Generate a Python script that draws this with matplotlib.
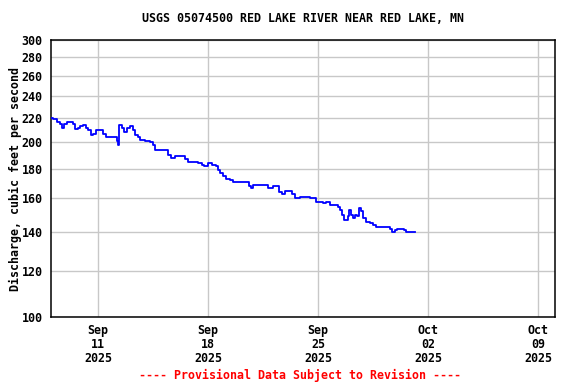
import matplotlib
matplotlib.use("Agg")
import matplotlib.pyplot as plt
import matplotlib.dates as mdates
from matplotlib.ticker import FixedLocator, NullLocator
from datetime import datetime, timedelta

days = [0.00, 0.13, 0.38, 0.57, 0.70, 0.83, 1.02, 1.21, 1.40, 1.53, 1.72, 1.85,
        2.04, 2.23, 2.36, 2.55, 2.67, 2.86, 3.12, 3.31, 3.50, 3.76, 4.14, 4.20,
        4.27, 4.33, 4.52, 4.65, 4.84, 5.03, 5.22, 5.35, 5.54, 5.67, 5.79, 5.98,
        6.30, 6.49, 6.62, 6.75, 7.07, 7.32, 7.45, 7.64, 7.89, 8.21, 8.53, 8.72,
        8.91, 9.17, 9.36, 9.61, 9.74, 9.99, 10.25, 10.50, 10.63, 10.76, 10.95,
        11.14, 11.39, 11.59, 11.78, 12.03, 12.41, 12.60, 12.73, 12.86, 13.11,
        13.43, 13.62, 13.81, 13.94, 14.13, 14.32, 14.51, 14.70, 14.90, 15.15,
        15.34, 15.53, 15.72, 15.85, 16.04, 16.23, 16.49, 16.68, 16.87, 17.12,
        17.31, 17.51, 17.76, 18.08, 18.27, 18.40, 18.52, 18.65, 18.78, 18.91,
        18.97, 19.10, 19.22, 19.35, 19.48, 19.61, 19.73, 19.86, 20.05, 20.31,
        20.50, 20.69, 20.94, 21.39, 21.58, 21.71, 21.90, 22.03, 22.34, 22.47,
        22.60, 22.85, 23.11, 23.17]
flow = [220, 219, 217, 215, 212, 215, 217, 217, 215, 211, 212, 213,
        214, 212, 210, 206, 207, 210, 210, 207, 204, 204, 204, 201,
        198, 214, 212, 208, 212, 213, 210, 206, 204, 202, 202, 201,
        200, 198, 194, 194, 194, 194, 190, 188, 189, 189, 187, 185,
        185, 185, 184, 183, 182, 184, 183, 182, 179, 177, 175,
        173, 172, 171, 171, 171, 171, 168, 167, 169, 169,
        169, 169, 167, 167, 168, 168, 164, 163, 165, 165,
        163, 160, 160, 161, 161, 161, 160, 160, 158, 158,
        157, 158, 156, 156, 155, 153, 150, 147, 147, 149,
        153, 150, 148, 150, 149, 154, 152, 148, 146, 145,
        144, 143, 143, 143, 142, 140, 141, 142, 142, 141,
        140, 140, 140, 140]

y_ticks = [100, 120, 140, 160, 180, 200, 220, 240, 260, 280, 300]
x_ticks = [datetime(2025, 9, 11), datetime(2025, 9, 18), datetime(2025, 9, 25),
           datetime(2025, 10, 2), datetime(2025, 10, 9)]

base = datetime(2025, 9, 8)
times = [base + timedelta(days=d) for d in days]

font = {'family': 'DejaVu Sans Mono', 'weight': 'bold', 'size': 8.4}

fig = plt.figure(figsize=(5.76, 3.84), dpi=100)
ax = fig.add_axes([0.0885, 0.1745, 0.875, 0.7213])

ax.plot(times, flow, color=(0, 0, 1), linewidth=1.3, drawstyle='steps-post', zorder=3)

ax.set_yscale('log')
ax.set_ylim(100, 300)
ax.yaxis.set_major_locator(FixedLocator(y_ticks))
ax.yaxis.set_minor_locator(NullLocator())
ax.set_yticklabels([str(v) for v in y_ticks], fontdict=font)

ax.set_xlim(base, base + timedelta(days=32.08))
ax.xaxis.set_major_locator(FixedLocator(mdates.date2num(x_ticks)))
ax.set_xticklabels([d.strftime('%b\n%d\n%Y') for d in x_ticks], fontdict=font,
                   linespacing=1.1)

ax.grid(True, color='#c8c8c8', linewidth=1)
ax.tick_params(axis='x', length=0, pad=5)
ax.tick_params(axis='y', length=0, pad=6)
for s in ax.spines.values():
    s.set_linewidth(1.1)
    s.set_color('black')

ax.set_ylabel('Discharge, cubic feet per second', fontdict=font, labelpad=0)
ax.set_title('USGS 05074500 RED LAKE RIVER NEAR RED LAKE, MN', fontdict=font, pad=13)
fig.text(0.52, 0.013, '---- Provisional Data Subject to Revision ----',
         color='red', ha='center', **font)

fig.savefig('out.png', dpi=100)
